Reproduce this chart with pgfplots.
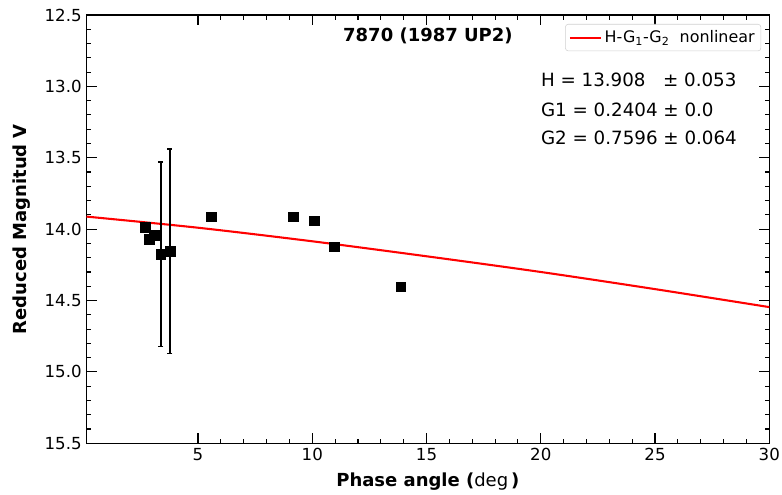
\documentclass[border=0pt]{standalone}
\usepackage{pgfplots}
\pgfplotsset{compat=1.18}
\usepackage{fontspec}
\setmainfont{DejaVu Sans}
\usetikzlibrary{calc}
\begin{document}
\begin{tikzpicture}
\begin{axis}[
  name=ax,
  scale only axis,
  width=6.828in, height=4.283in,
  xmin=0.12, xmax=30,
  ymin=12.5, ymax=15.5,
  y dir=reverse,
  xtick={5,10,15,20,25,30},
  minor x tick num=4,
  ytick={12.5,13.0,13.5,14.0,14.5,15.0,15.5},
  minor y tick num=4,
  tick align=inside,
  xtick pos=both, ytick pos=both,
  xticklabel pos=lower, yticklabel pos=left,
  major tick length=0.1in,
  minor tick length=0.045in,
  every tick/.style={black, line width=0.8pt},
  axis line style={line width=0.8pt},
  /pgf/number format/assume math mode=true,
  yticklabel style={/pgf/number format/fixed, /pgf/number format/fixed zerofill, /pgf/number format/precision=1, font=\fontsize{12}{14}\selectfont},
  xticklabel style={font=\fontsize{12}{14}\selectfont},
  scaled y ticks=false,
  xlabel={\textbf{Phase angle (}deg\,\textbf{)}},
  ylabel={\textbf{Reduced Magnitud V}},
  xlabel style={at={(axis description cs:0.5,-0.090)}, anchor=center, font=\fontsize{13}{15}\selectfont},
  ylabel style={at={(axis description cs:-0.0952,0.5)}, anchor=center, font=\fontsize{13}{15}\selectfont},
  legend style={at={(axis description cs:0.988,0.979)}, anchor=north east, draw=black!18, rounded corners=2pt, font=\fontsize{11.5}{13.5}\selectfont, inner sep=2.5pt},
  legend cell align=left,
  legend image code/.code={\draw[#1] (0cm,0cm) -- (0.31in,0cm);},
  clip=true,
]
\addplot[red, line width=1.5pt, smooth] coordinates {
(0.12,13.912) (5,13.99) (10,14.085) (15,14.19) (20,14.30) (25,14.42) (30,14.546)
};
\addlegendentry{H-G\textsubscript{1}-G\textsubscript{2}\ \ nonlinear}
\addplot[black, only marks, mark=square*, mark size=0.048in, mark options={fill=black, line width=0.3pt},
  error bars/.cd, y dir=both, y explicit,
  error bar style={line width=1.2pt, black},
  error mark options={line width=1.2pt, mark size=0.025in, black, rotate=90}]
coordinates {
(2.68,13.987) +- (0,0)
(2.87,14.071) +- (0,0)
(3.09,14.041) +- (0,0)
(3.37,14.176) +- (0,0.647)
(3.77,14.155) +- (0,0.716)
(5.57,13.912) +- (0,0)
(9.17,13.912) +- (0,0)
(10.08,13.940) +- (0,0)
(10.97,14.123) +- (0,0.03)
(13.87,14.403) +- (0,0)
};
\node[font=\fontsize{13}{15}\selectfont\bfseries, anchor=center] at (axis description cs:0.5,0.9517) {7870 (1987 UP2)};
\node[font=\fontsize{13.2}{15}\selectfont, anchor=west, inner sep=0pt] at (axis cs:20.0,12.955) {H = 13.908\ \ \ ± 0.053};
\node[font=\fontsize{13.2}{15}\selectfont, anchor=west, inner sep=0pt] at (axis cs:20.0,13.165) {G1 = 0.2404 ± 0.0};
\node[font=\fontsize{13.2}{15}\selectfont, anchor=west, inner sep=0pt] at (axis cs:20.0,13.361) {G2 = 0.7596 ± 0.064};
\end{axis}
\pgfresetboundingbox
\path[use as bounding box] ($(ax.south west)+(-0.865in,-0.517in)$) rectangle ($(ax.north east)+(0.127in,0.15in)$);
\end{tikzpicture}
\end{document}
